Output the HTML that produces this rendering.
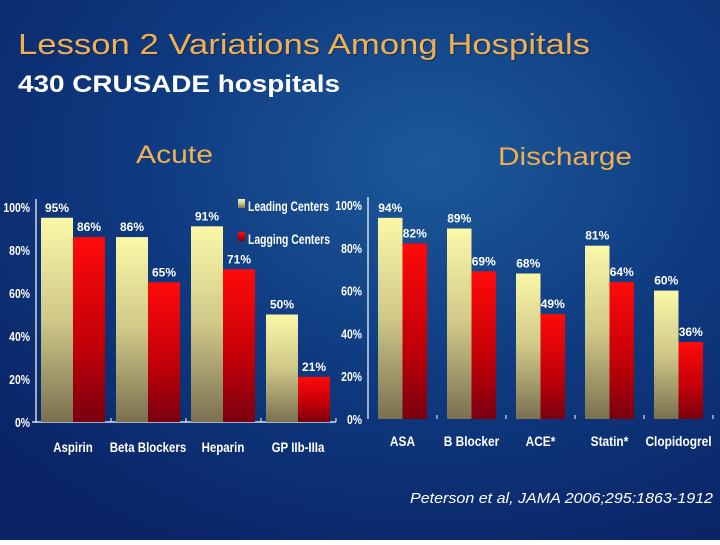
<!DOCTYPE html>
<html><head><meta charset="utf-8"><style>
html,body{margin:0;padding:0;}
body{width:720px;height:540px;overflow:hidden;font-family:"Liberation Sans",sans-serif;}
</style></head><body>
<svg width="720" height="540" viewBox="0 0 720 540" xmlns="http://www.w3.org/2000/svg">
<defs>
<radialGradient id="bg" cx="0.6" cy="0.3" r="0.8">
<stop offset="0" stop-color="#1c5a9a"/><stop offset="0.5" stop-color="#0f3a80"/><stop offset="1" stop-color="#0a2466"/>
</radialGradient>
<linearGradient id="lead" x1="0" y1="0" x2="0" y2="1"><stop offset="0" stop-color="#fbf8a8"/><stop offset="0.5" stop-color="#cfc888"/><stop offset="1" stop-color="#7a7050"/></linearGradient>
<linearGradient id="lag" x1="0" y1="0" x2="0" y2="1"><stop offset="0" stop-color="#ff0a0a"/><stop offset="0.6" stop-color="#c00008"/><stop offset="1" stop-color="#7a0010"/></linearGradient>
</defs>
<rect width="720" height="540" fill="url(#bg)"/>
<text x="19" y="55" font-size="29" fill="#0a1a40" fill-opacity="0.6" textLength="572" lengthAdjust="spacingAndGlyphs">Lesson 2 Variations Among Hospitals</text>
<text x="18" y="54" font-size="29" fill="#f0b050" textLength="572" lengthAdjust="spacingAndGlyphs">Lesson 2 Variations Among Hospitals</text>
<text x="18" y="92" font-size="24" font-weight="bold" fill="#fff" textLength="322" lengthAdjust="spacingAndGlyphs">430 CRUSADE hospitals</text>
<text x="136" y="163" font-size="25" fill="#f0b050" textLength="77" lengthAdjust="spacingAndGlyphs">Acute</text>
<text x="498" y="165" font-size="25" fill="#f0b050" textLength="134" lengthAdjust="spacingAndGlyphs">Discharge</text>
<g id="left"></g>
<g id="right"></g>
<g>
<rect x="238" y="199" width="7" height="9" fill="url(#lead)"/>
<text x="248" y="211" font-size="14" font-weight="bold" fill="#fff" textLength="81" lengthAdjust="spacingAndGlyphs">Leading Centers</text>
<rect x="238" y="232" width="7" height="9" fill="url(#lag)"/>
<text x="248" y="244" font-size="14" font-weight="bold" fill="#fff" textLength="82" lengthAdjust="spacingAndGlyphs">Lagging Centers</text>
</g>
<text x="410" y="503" font-size="15" font-style="italic" fill="#fff" textLength="303" lengthAdjust="spacingAndGlyphs">Peterson et al, JAMA 2006;295:1863-1912</text>
</svg>
<script>
const acuteCats=["Aspirin","Beta Blockers","Heparin","GP IIb-IIIa"];
const acuteLead=[95,86,91,50];
const acuteLag=[86,65,71,21];
const dischCats=["ASA","B Blocker","ACE*","Statin*","Clopidogrel"];
const dischLead=[94,89,68,81,60];
const dischLag=[82,69,49,64,36];
const ticks=[0,20,40,60,80,100];
const NS="http://www.w3.org/2000/svg";
function mk(p,t,a,txt){const e=document.createElementNS(NS,t);for(const k in a)e.setAttribute(k,a[k]);if(txt!==undefined)e.textContent=txt;p.appendChild(e);return e;}
function chart(g,cfg,cats,lead,lag){
  const y=v=>cfg.base-(cfg.base-cfg.top)*v/100;
  const ax=mk(g,'line',{x1:cfg.ax,x2:cfg.ax,y1:cfg.top-8,y2:cfg.base,stroke:'#fff','stroke-width':1.2});
  
  
  const bl=mk(g,'line',{x1:cfg.ax-4,x2:cfg.ax+cfg.pitch*cats.length,y1:cfg.base,y2:cfg.base,stroke:'#fff','stroke-width':1.2,'stroke-opacity':cfg.baseOp});
  
  
  ticks.forEach(t=>{
    const tx=mk(g,'text',{x:cfg.ax-cfg.labOff,y:y(t)+5,'font-size':13,'font-weight':'bold',fill:'#fff','text-anchor':'end',transform:`translate(${cfg.ax-cfg.labOff} 0) scale(0.8 1) translate(${-(cfg.ax-cfg.labOff)} 0)`},t+'%');
    
    
  });
  for(let i=1;i<=cats.length;i++){
    const tk=mk(g,'line',{x1:cfg.ax+cfg.pitch*i,x2:cfg.ax+cfg.pitch*i,y1:cfg.base,y2:cfg.base-4,stroke:'#fff'});
    
    
  }
  cats.forEach((c,i)=>{
    const x0=cfg.ax+cfg.first+cfg.pitch*i;
    const b1=mk(g,'rect',{x:x0,y:y(lead[i]),width:cfg.bw,height:cfg.base-y(lead[i]),fill:'url(#lead)'});
    
    
    const b2=mk(g,'rect',{x:x0+cfg.bw,y:y(lag[i]),width:cfg.bw,height:cfg.base-y(lag[i]),fill:'url(#lag)'});
    
    
    const l1=mk(g,'text',{x:x0+cfg.bw/2,y:y(lead[i])-6,'font-size':12,'font-weight':'bold',fill:'#fff','text-anchor':'middle'},lead[i]+'%');
    
    
    const l2=mk(g,'text',{x:x0+cfg.bw*1.5,y:y(lag[i])-6,'font-size':12,'font-weight':'bold',fill:'#fff','text-anchor':'middle'},lag[i]+'%');
    
    
    const cx=x0+cfg.bw;
    const cl=mk(g,'text',{x:cx,y:cfg.catY,'font-size':14,'font-weight':'bold',fill:'#fff','text-anchor':'middle',transform:`translate(${cx} 0) scale(${cfg.catSx} 1) translate(${-cx} 0)`},c);
    
    
  });
}
chart(document.getElementById('left'),{ax:36,base:422,top:207,pitch:75,first:5,bw:32,labOff:6,catY:452,catSx:0.82,baseOp:1},acuteCats,acuteLead,acuteLag);
chart(document.getElementById('right'),{ax:368,base:419,top:205,pitch:69,first:10,bw:24.5,labOff:6,catY:446,catSx:0.85,baseOp:0},dischCats,dischLead,dischLag);
</script>
</body></html>
